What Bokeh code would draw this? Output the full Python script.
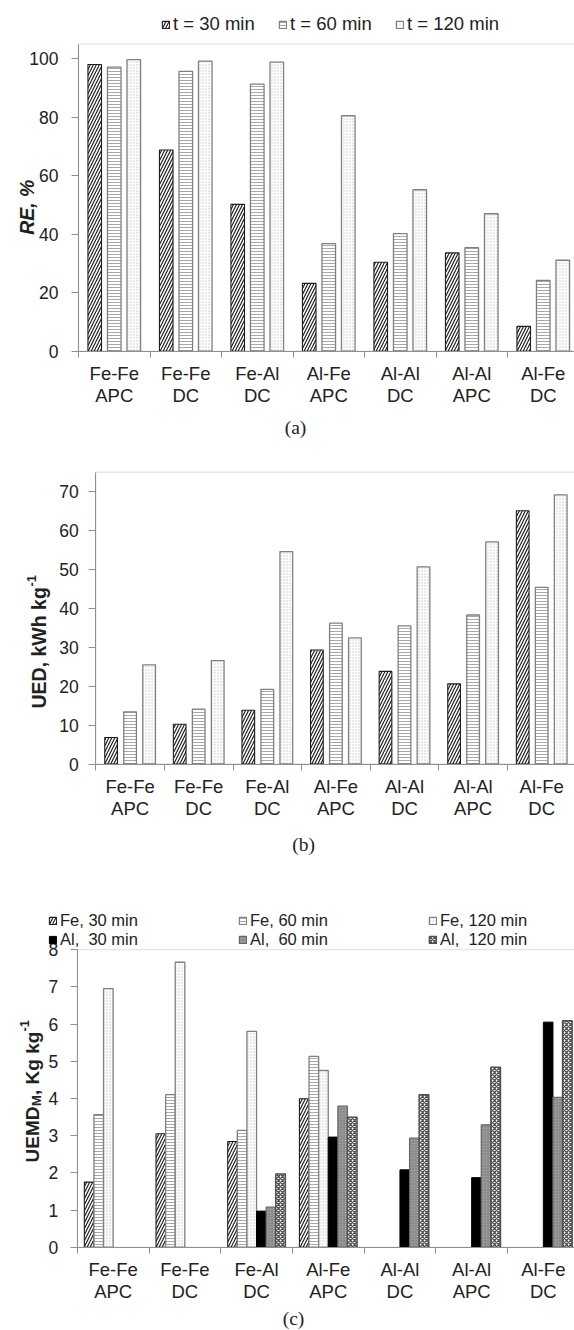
import numpy as np
from bokeh.plotting import figure
from bokeh.models import (ColumnDataSource, FixedTicker, Range1d, Legend, LegendItem, Label,
                          BoxAnnotation)
from bokeh.layouts import column
from bokeh.embed import file_html
from bokeh.resources import INLINE

nan = float("nan")

# ---------------- data ----------------
categories = ["Fe-Fe\nAPC", "Fe-Fe\nDC", "Fe-Al\nDC", "Al-Fe\nAPC", "Al-Al\nDC", "Al-Al\nAPC", "Al-Fe\nDC"]

time_labels = ["t = 30 min", "t = 60 min", "t = 120 min"]
re_30 = [98.0, 68.8, 50.2, 23.2, 30.4, 33.6, 8.5]
re_60 = [97.1, 95.7, 91.3, 36.8, 40.2, 35.4, 24.2]
re_120 = [99.7, 99.2, 98.8, 80.5, 55.2, 47.0, 31.1]
re_ticks = [0, 20, 40, 60, 80, 100]

ued_30 = [6.8, 10.2, 13.8, 29.3, 23.8, 20.6, 65.1]
ued_60 = [13.4, 14.1, 19.2, 36.2, 35.5, 38.3, 45.4]
ued_120 = [25.5, 26.6, 54.6, 32.4, 50.7, 57.1, 69.2]
ued_ticks = [0, 10, 20, 30, 40, 50, 60, 70]

uemd_labels = ["Fe, 30 min", "Fe, 60 min", "Fe, 120 min", "Al,  30 min", "Al,  60 min", "Al,  120 min"]
fe_30 = [1.75, 3.05, 2.84, 3.99, nan, nan, nan]
fe_60 = [3.56, 4.10, 3.14, 5.13, nan, nan, nan]
fe_120 = [6.95, 7.66, 5.80, 4.75, nan, nan, nan]
al_30 = [nan, nan, 0.97, 2.96, 2.08, 1.87, 6.05]
al_60 = [nan, nan, 1.08, 3.79, 2.93, 3.29, 4.03]
al_120 = [nan, nan, 1.97, 3.49, 4.10, 4.84, 6.09]
uemd_ticks = [0, 1, 2, 3, 4, 5, 6, 7, 8]

panel_tags = ["(a)", "(b)", "(c)"]

# ---------------- styles ----------------
SANS = "Liberation Sans"
SERIF = "Liberation Serif"
TXT = "#222222"
AX = "#8f8f8f"

ST30 = dict(fill_color="white", hatch_pattern="/", hatch_color="#1e1e1e", hatch_scale=6,
            hatch_weight=1.2, line_color="#1e1e1e", line_width=1.1)
ST60 = dict(fill_color="white", hatch_pattern="-", hatch_color="#a8a8a8", hatch_scale=3,
            hatch_weight=1, line_color="#808080", line_width=1.3)
ST120 = dict(fill_color="white", hatch_pattern=".", hatch_color="#c4c4c4", hatch_scale=3,
             hatch_weight=1, line_color="#808080", line_width=1.3)
STAL30 = dict(fill_color="black", line_color="black", line_width=1)
STAL60 = dict(fill_color="#999999", hatch_pattern=".", hatch_color="#6a6a6a", hatch_scale=3,
              hatch_weight=1, line_color="#666666", line_width=1.2)
STAL120 = dict(fill_color="white", hatch_pattern="x", hatch_color="#505050", hatch_scale=4,
               hatch_weight=1.3, line_color="#505050", line_width=1.5)

n = len(categories)
centers = np.arange(n) + 0.5
W = 574


def make_fig(H, x0_px, cat_px, zero_px, unit_px, ymax, y_ticks, tick_out, standoff):
    p = figure(width=W, height=H,
               x_range=Range1d(-x0_px / cat_px, (W - x0_px) / cat_px),
               y_range=Range1d((zero_px - H) / unit_px, zero_px / unit_px),
               min_border=0, output_backend="svg", toolbar_location=None)
    p.outline_line_color = None
    p.background_fill_color = "white"
    p.border_fill_color = "white"
    p.xgrid.visible = False
    p.ygrid.visible = False
    # plot-area border (top / left edges)
    p.add_layout(BoxAnnotation(left=0, right=n, bottom=0, top=ymax, fill_alpha=0,
                               line_color="#a8a8a8", line_width=1.4, level="underlay"))
    xa = p.xaxis[0]
    xa.fixed_location = 0
    xa.bounds = (0, n)
    xa.ticker = FixedTicker(ticks=list(centers), minor_ticks=list(range(n + 1)))
    xa.major_label_overrides = {float(c): lab for c, lab in zip(centers, categories)}
    xa.major_tick_line_color = None
    xa.major_tick_in = 0
    xa.major_tick_out = 0
    xa.minor_tick_in = 0
    xa.minor_tick_out = 6
    xa.minor_tick_line_color = AX
    xa.axis_line_color = AX
    xa.major_label_text_font = SANS
    xa.major_label_text_font_size = "18.5px"
    xa.major_label_text_color = TXT
    xa.major_label_text_line_height = 1.05
    xa.major_label_standoff = 6
    ya = p.yaxis[0]
    ya.fixed_location = 0
    ya.bounds = (0, ymax)
    ya.ticker = FixedTicker(ticks=y_ticks, minor_ticks=[])
    ya.major_tick_in = 0
    ya.major_tick_out = tick_out
    ya.major_tick_line_color = AX
    ya.minor_tick_line_color = None
    ya.axis_line_color = AX
    ya.major_label_text_font = SANS
    ya.major_label_text_font_size = "17.5px"
    ya.major_label_text_color = TXT
    ya.major_label_standoff = standoff
    return p


def bars(p, vals, off, width, style):
    src = ColumnDataSource(dict(x=centers + off, top=np.array(vals, dtype=float)))
    return p.vbar(x="x", top="top", bottom=0, width=width, source=src, **style)


def rot(p, text, x, y, size, style="bold", align="left"):
    p.add_layout(Label(x=x, y=y, x_units="screen", y_units="screen", text=text, angle=np.pi / 2,
                       text_font=SANS, text_font_size=size, text_font_style=style, text_color=TXT,
                       text_align=align, text_baseline="alphabetic"))


def tag(p, text, x, y):
    p.add_layout(Label(x=x, y=y, x_units="screen", y_units="screen", text=text,
                       text_font=SERIF, text_font_size="19.5px", text_color=TXT,
                       text_align="center", text_baseline="middle"))


def legend(items, x, y, label_width, size, gh):
    return Legend(items=items, orientation="horizontal", location=(x, y),
                  glyph_width=gh, glyph_height=gh, label_standoff=3, spacing=0,
                  padding=0, margin=0, border_line_color=None, background_fill_alpha=0,
                  label_text_font=SANS, label_text_font_size=size, label_text_color=TXT,
                  label_width=label_width, label_height=gh, label_text_baseline="middle")


# ---------------- panel (a) ----------------
H1 = 440
p1 = make_fig(H1, 78, 71.5, 350.7, 2.925, 105, re_ticks, 7, 13)
ra = [bars(p1, v, o, 0.19, s) for v, o, s in
      zip([re_30, re_60, re_120], [-0.273, 0.0, 0.273], [ST30, ST60, ST120])]
p1.add_layout(legend([LegendItem(label=l, renderers=[r]) for l, r in zip(time_labels, ra)],
                     161, H1 - 35, 105, "18.5px", 9))
rot(p1, "RE, %", 26, H1 - 206.7, "19.5px", "bold italic", "center")
tag(p1, panel_tags[0], 295, H1 - 427)

# ---------------- panel (b) ----------------
H2 = 430
p2 = make_fig(H2, 95.3, 68.6, 323.5, 3.89, 75, ued_ticks, 7, 10)
for v, o, s in zip([ued_30, ued_60, ued_120], [-0.277, 0.0, 0.277], [ST30, ST60, ST120]):
    bars(p2, v, o, 0.185, s)
rot(p2, "UED, kWh kg", 38.5, 162, "19.5px")
rot(p2, "-1", 31, 284, "13px")
tag(p2, panel_tags[1], 303, H2 - 404)

# ---------------- panel (c) ----------------
H3 = 460
p3 = make_fig(H3, 76.8, 71.7, 376.7, 37.2, 8, uemd_ticks, 7, 12)
bw = 0.134
rc = [bars(p3, v, (k - 2.5) * bw, bw, s) for k, (v, s) in
      enumerate(zip([fe_30, fe_60, fe_120, al_30, al_60, al_120],
                    [ST30, ST60, ST120, STAL30, STAL60, STAL120]))]
items_c = [LegendItem(label=l, renderers=[r]) for l, r in zip(uemd_labels, rc)]
p3.add_layout(legend(items_c[:3], 48, 400, 178, "16.5px", 9))
p3.add_layout(legend(items_c[3:], 48, 381, 178, "16.5px", 9))
rot(p3, "UEMD", 32, 168, "19px")
rot(p3, "M", 36, 224.5, "13px")
rot(p3, ", Kg kg", 32, 235.5, "19px")
rot(p3, "-1", 24, 299, "13px")
tag(p3, panel_tags[2], 293, H3 - 448)

layout = column(p1, p2, p3)
open("out.html", "w").write(file_html(layout, INLINE, title="plot"))
